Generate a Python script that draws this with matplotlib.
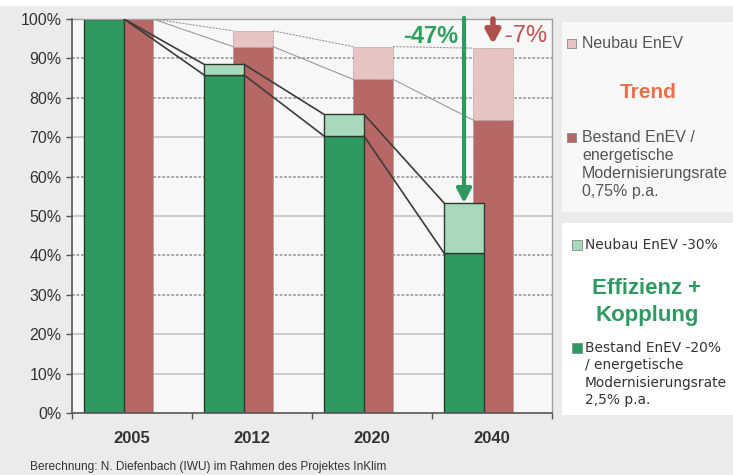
import matplotlib
matplotlib.use("Agg")
import matplotlib.pyplot as plt
from matplotlib.patches import Rectangle
import numpy as np

# ---- data ----
years = ["2005", "2012", "2020", "2040"]
green_bestand = [100.0, 85.8, 70.3, 40.6]
green_neubau = [0.0, 2.7, 5.5, 12.7]
red_bestand = [100.0, 93.0, 84.7, 74.4]
red_neubau = [0.0, 4.0, 8.3, 18.2]
yticks = [0, 10, 20, 30, 40, 50, 60, 70, 80, 90, 100]
dotted_grid = [30, 40, 60, 80, 90]
solid_grid = [10, 20, 50, 70]
label_green = "-47%"
label_red = "-7%"
footer = "Berechnung: N. Diefenbach (IWU) im Rahmen des Projektes InKlim"

W, H = 733, 475
fig = plt.figure(figsize=(W / 100, H / 100), dpi=100)
fig.patch.set_facecolor("#ebebeb")

def fx(px):
    return px / W

def fy(py):
    return 1 - py / H

# white strip at the top
fig.patches.append(Rectangle((0, fy(6)), 1, 6 / H, transform=fig.transFigure,
                             facecolor="white", edgecolor="none", zorder=0))

ax = fig.add_axes([fx(72), fy(413), fx(552) - fx(72), fy(19) - fy(413)])
ax.set_facecolor("#f7f7f7")
ax.set_xlim(-0.5, 3.5)
ax.set_ylim(0, 100)

C_GREEN = "#2e9a62"
C_LGREEN = "#a9d9bb"
C_RED = "#b76866"
C_PINK = "#e7c3c3"

w = 0.333
g_off = -0.233
r_off = 0.008
x = np.arange(len(years))

# grid
for g in dotted_grid:
    ax.axhline(g, color="#a0a0a0", lw=1.3, ls=(0, (1.5, 1)), zorder=0.5)
for g in solid_grid:
    ax.axhline(g, color="#c4c4c4", lw=1.2, zorder=0.5)

# red bars (behind)
ax.bar(x + r_off, red_bestand, w, color=C_RED, edgecolor="#9a8a8a", lw=0.6,
       ls=(0, (1, 1)), zorder=1)
ax.bar(x + r_off, red_neubau, w, bottom=red_bestand, color=C_PINK,
       edgecolor="#9a8a8a", lw=0.6, ls=(0, (1, 1)), zorder=1)

# red series lines
rt = np.array(red_bestand) + np.array(red_neubau)
for i in range(len(years) - 1):
    xa = x[i] + r_off + w / 2
    xb = x[i + 1] + r_off - w / 2
    ax.plot([xa, xb], [rt[i], rt[i + 1]], color="#9a9a9a", lw=0.8,
            ls=(0, (2, 1)), zorder=1.5)
    ax.plot([xa, xb], [red_bestand[i], red_bestand[i + 1]], color="#9a9a9a",
            lw=0.8, zorder=1.5)

# green bars (front)
ax.bar(x + g_off, green_bestand, w, color=C_GREEN, edgecolor="#2b3a30",
       lw=1.0, zorder=2)
ax.bar(x + g_off, green_neubau, w, bottom=green_bestand, color=C_LGREEN,
       edgecolor="#2b3a30", lw=1.0, zorder=2)

# green series lines
gt = np.array(green_bestand) + np.array(green_neubau)
for i in range(len(years) - 1):
    xa = x[i] + g_off + w / 2
    xb = x[i + 1] + g_off - w / 2
    ax.plot([xa, xb], [gt[i], gt[i + 1]], color="#3c3c3c", lw=1.2, zorder=3)
    ax.plot([xa, xb], [green_bestand[i], green_bestand[i + 1]],
            color="#3c3c3c", lw=1.2, zorder=3)

# spines
for s in ["top", "right"]:
    ax.spines[s].set_color("#a0a0a0")
    ax.spines[s].set_linestyle((0, (1.5, 1)))
    ax.spines[s].set_linewidth(1.0)
for s in ["left", "bottom"]:
    ax.spines[s].set_color("#555555")
    ax.spines[s].set_linewidth(1.2)
ax.spines["left"].set_zorder(4)
ax.spines["bottom"].set_zorder(4)

# ticks
ax.set_yticks(yticks)
ax.set_yticklabels([f"{t}%" for t in yticks], fontfamily="Liberation Sans",
                   fontsize=11.5, color="#333333")
ax.tick_params(axis="y", direction="out", length=4, width=1, color="#555555",
               pad=3.5)
ax.set_xticks(np.arange(-0.5, 3.6, 1.0))
ax.set_xticklabels([])
ax.tick_params(axis="x", which="major", direction="out", length=4, width=1,
               color="#555555")
ax.set_xticks(x, minor=True)
ax.set_xticklabels(years, minor=True, fontfamily="Liberation Sans",
                   fontsize=12, fontweight="bold", color="#333333")
ax.tick_params(axis="x", which="minor", length=0, pad=13)

# arrows
xg = x[3] + g_off
ax.annotate("", xy=(xg, gt[3]), xytext=(xg, 100.3),
            arrowprops=dict(arrowstyle="-|>,head_length=0.55,head_width=0.29",
                            color=C_GREEN, lw=3, mutation_scale=15,
                            shrinkA=0, shrinkB=0), annotation_clip=False,
            zorder=5)
xr = x[3] + r_off
ax.annotate("", xy=(xr, rt[3] + 1.0), xytext=(xr, 100),
            arrowprops=dict(arrowstyle="-|>,head_length=0.55,head_width=0.3",
                            color="#b0504c", lw=4, mutation_scale=14,
                            shrinkA=0, shrinkB=0), annotation_clip=False,
            zorder=5)
ax.text(xg - 0.05, 95.6, label_green, ha="right", va="center",
        fontfamily="Liberation Sans", fontsize=17, fontweight="bold",
        color="#2fa060", zorder=6)
ax.text(xr + 0.1, 95.6, label_red, ha="left", va="center",
        fontfamily="Liberation Sans", fontsize=17, color="#c0504d", zorder=6)

# legend boxes
fig.patches.append(Rectangle((fx(562), fy(212)), fx(733) - fx(562),
                             fy(22) - fy(212), transform=fig.transFigure,
                             facecolor="#f8f8f8", edgecolor="none"))
fig.patches.append(Rectangle((fx(562), fy(415)), fx(733) - fx(562),
                             fy(223) - fy(415), transform=fig.transFigure,
                             facecolor="#ffffff", edgecolor="none"))

def marker(px, py, color, size=9):
    fig.patches.append(Rectangle((fx(px), fy(py + size / 2)), size / W,
                                 size / H, transform=fig.transFigure,
                                 facecolor=color, edgecolor="#888888",
                                 lw=0.6))

# box 1
marker(567, 43, C_PINK)
fig.text(fx(582), fy(43), "Neubau EnEV", ha="left", va="center",
         fontfamily="Liberation Sans", fontsize=11.5, color="#555555")
fig.text(fx(648), fy(92), "Trend", ha="center", va="center",
         fontfamily="Liberation Sans", fontsize=15, fontweight="bold",
         color="#e8704a")
marker(567, 137, C_RED)
for k, line in enumerate(["Bestand EnEV /", "energetische",
                          "Modernisierungsrate", "0,75% p.a."]):
    fig.text(fx(582), fy(137 + k * 18.3), line, ha="left", va="center",
             fontfamily="Liberation Sans", fontsize=11.5, color="#555555")

# box 2
marker(572, 245, C_LGREEN, size=10)
fig.text(fx(585), fy(245), "Neubau EnEV -30%", ha="left", va="center",
         fontfamily="DejaVu Sans", fontsize=9.9, color="#333333")
fig.text(fx(647), fy(288), "Effizienz +", ha="center", va="center",
         fontfamily="Liberation Sans", fontsize=16, fontweight="bold",
         color=C_GREEN)
fig.text(fx(647), fy(315), "Kopplung", ha="center", va="center",
         fontfamily="Liberation Sans", fontsize=16, fontweight="bold",
         color=C_GREEN)
marker(572, 348, C_GREEN, size=10)
for k, line in enumerate(["Bestand EnEV -20%", "/ energetische",
                          "Modernisierungsrate", "2,5% p.a."]):
    fig.text(fx(585), fy(348 + k * 17.3), line, ha="left", va="center",
             fontfamily="DejaVu Sans", fontsize=9.9, color="#333333")

fig.text(fx(30), fy(467), footer, ha="left", va="center",
         fontfamily="Liberation Sans", fontsize=8.6, color="#333333")

fig.savefig("out.png", dpi=100, facecolor=fig.get_facecolor())
